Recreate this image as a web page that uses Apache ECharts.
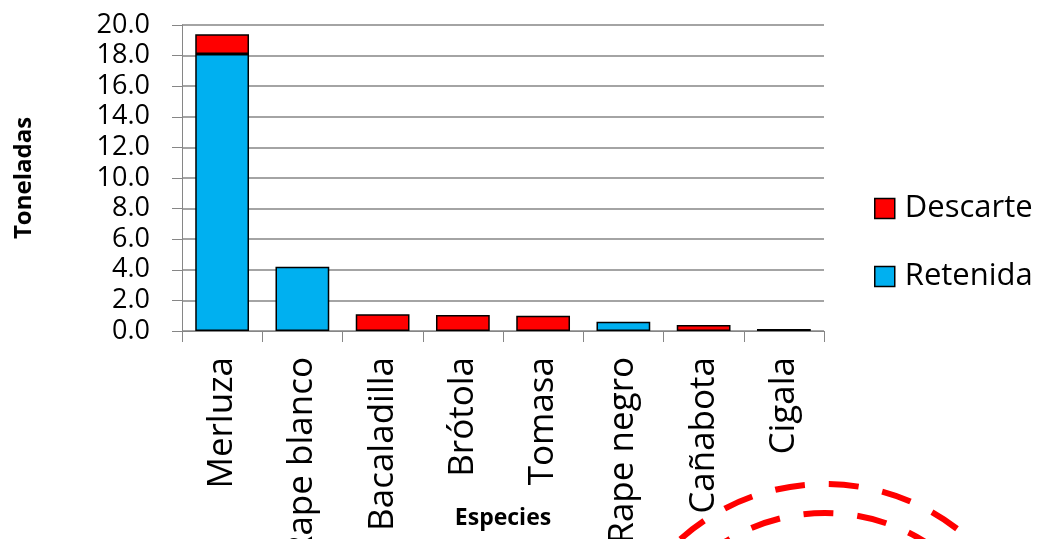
<!DOCTYPE html>
<html>
<head>
<meta charset="utf-8">
<script src="https://cdn.jsdelivr.net/npm/echarts@6/dist/echarts.min.js"></script>
<style>
html,body{margin:0;padding:0;background:#fff;}
#chart{width:1041px;height:539px;}
</style>
</head>
<body>
<div id="chart"></div>
<script>
const categories = ['Merluza','Rape blanco','Bacaladilla','Brótola','Tomasa','Rape negro','Cañabota','Cigala'];
const retenida = [18.1, 4.2, null, null, null, 0.6, null, 0.13];
const descarte = [1.3, null, 1.1, 1.05, 1.0, null, 0.4, null];
const yTicks = [0, 2, 4, 6, 8, 10, 12, 14, 16, 18, 20];

const FONT = '"Open Sans", "Liberation Sans", sans-serif';
const GRID = '#868686';

const chart = echarts.init(document.getElementById('chart'), null, {renderer:'canvas'});
chart.setOption({
  animation: false,
  backgroundColor: '#ffffff',
  grid: {left: 182, right: 217, top: 25, bottom: 208, containLabel: false, outerBoundsMode: 'none'},
  legend: {
    data: ['Descarte','Retenida'],
    orient: 'vertical',
    left: 874, top: 193, padding: 0,
    itemWidth: 20, itemHeight: 20, itemGap: 37,
    icon: 'rect',
    itemStyle: {borderColor: '#000', borderWidth: 1.5},
    textStyle: {fontFamily: FONT, fontSize: 31, color: '#000', padding: [0,0,0,5]}
  },
  xAxis: {
    type: 'category',
    data: categories,
    name: 'Especies',
    nameLocation: 'middle',
    nameGap: 176,
    nameMoveOverlap: false,
    nameTextStyle: {fontFamily: FONT, fontSize: 23, fontWeight: 'bold', color: '#000'},
    axisLine: {show: true, lineStyle: {color: GRID, width: 1}},
    axisTick: {show: true, length: 11, alignWithLabel: false, lineStyle: {color: GRID}},
    axisLabel: {rotate: 90, fontFamily: FONT, fontSize: 35, color: '#000', margin: 26, interval: 0}
  },
  yAxis: {
    type: 'value',
    min: 0, max: 20, interval: 2,
    name: 'Toneladas',
    nameLocation: 'middle',
    nameRotate: 90,
    nameGap: 146,
    nameMoveOverlap: false,
    nameTextStyle: {fontFamily: FONT, fontSize: 24, fontWeight: 'bold', color: '#000'},
    axisLine: {show: true, lineStyle: {color: GRID, width: 1}},
    axisTick: {show: true, length: 10, inside: false, lineStyle: {color: GRID}},
    splitLine: {show: true, lineStyle: {color: GRID, width: 1.5}},
    axisLabel: {fontFamily: FONT, fontSize: 27, color: '#000', margin: 32,
      formatter: v => yTicks.includes(v) ? v.toFixed(1) : ''}
  },
  series: [
    {
      name: 'Retenida', type: 'bar', stack: 'total', data: retenida,
      barCategoryGap: '33%',
      itemStyle: {color: '#00B0F0', borderColor: '#000', borderWidth: 1.5}
    },
    {
      name: 'Descarte', type: 'bar', stack: 'total', data: descarte,
      barCategoryGap: '33%',
      itemStyle: {color: '#FF0000', borderColor: '#000', borderWidth: 1.5}
    }
  ],
  graphic: [
    {type: 'circle', shape: {cx: 825, cy: 701, r: 217}, silent: true,
     style: {fill: 'none', stroke: '#FF0000', lineWidth: 6, lineDash: [30, 24]}},
    {type: 'circle', shape: {cx: 825, cy: 701, r: 188}, silent: true,
     style: {fill: 'none', stroke: '#FF0000', lineWidth: 6, lineDash: [30, 24]}}
  ]
});
</script>
</body>
</html>
